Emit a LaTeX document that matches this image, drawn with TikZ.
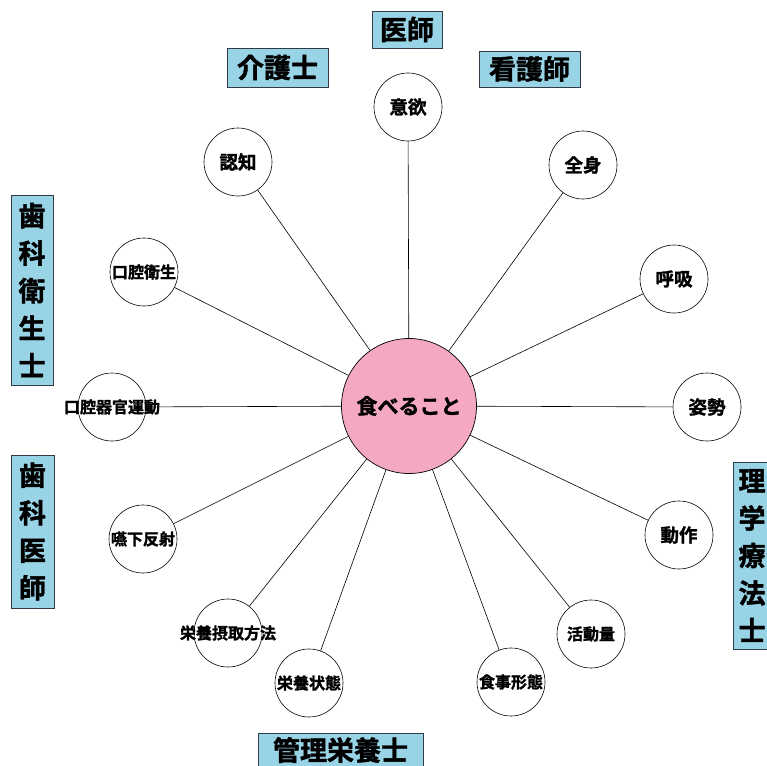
\documentclass[tikz,border=0pt]{standalone}
\usepackage{fontspec}
\setmainfont{Noto Sans CJK JP}[BoldFont={Noto Sans CJK JP Bold},BoldFeatures={FakeBold=1.5}]
\definecolor{boxblue}{RGB}{152,212,230}
\definecolor{boxedge}{RGB}{50,60,70}
\definecolor{hubpink}{RGB}{245,168,196}
\tikzset{
  hub/.style={circle,draw=black,fill=hubpink,line width=0.7pt,minimum size=135pt,inner sep=0pt},
  leaf/.style={circle,draw=black,fill=white,line width=0.6pt,minimum size=68pt,inner sep=0pt},
  leaftxt/.style={inner sep=0pt,font=\bfseries\fontsize{16}{16}\selectfont},
  leaftxtbig/.style={inner sep=0pt,font=\bfseries\fontsize{18.5}{18.5}\selectfont},
  hubtxt/.style={inner sep=0pt,font=\bfseries\fontsize{21}{21}\selectfont},
  role/.style={rectangle,draw=boxedge,fill=boxblue,line width=0.8pt,inner sep=0pt,align=center,font=\bfseries\fontsize{27}{37.5}\selectfont},
  roletxt/.style={inner sep=0pt,align=center,font=\bfseries\fontsize{27}{37.5}\selectfont},
  link/.style={draw=black,line width=0.6pt}
}
\begin{document}
\begin{tikzpicture}[x=1pt,y=-1pt]
\useasboundingbox (0,0) rectangle (767,765);
\clip (0,0) rectangle (767,765);
\fill[white] (0,0) rectangle (767,765);
% hub
\node[hub] (hub) at (409,406) {};
% leaves
\node[leaf] (yiyoku) at (408,107) {};
\node[leaf] (zenshin) at (583,165) {};
\node[leaf] (kokyu) at (674,279) {};
\node[leaf] (shisei) at (707,407) {};
\node[leaf] (dousa) at (679,535) {};
\node[leaf] (katsudo) at (591,634) {};
\node[leaf] (shokuji) at (511,682) {};
\node[leaf] (jotai) at (309,683) {};
\node[leaf] (sesshu) at (228,633) {};
\node[leaf] (enge) at (143,539) {};
\node[leaf] (kikan) at (112,407) {};
\node[leaf] (eisei) at (144,272) {};
\node[leaf] (ninchi) at (238,162) {};
% links
\foreach \n in {yiyoku,zenshin,kokyu,shisei,dousa,katsudo,shokuji,jotai,sesshu,enge,kikan,eisei,ninchi}
  \draw[link] (hub) -- (\n);
% texts
\node[hubtxt] (hubt) at (hub) {食べること};
\node[leaftxtbig] (yiyokut) at (yiyoku) {意欲};
\node[leaftxtbig] (zenshint) at (zenshin) {全身};
\node[leaftxtbig] (kokyut) at (kokyu) {呼吸};
\node[leaftxtbig] (shiseit) at (shisei) {姿勢};
\node[leaftxtbig] (dousat) at (dousa) {動作};
\node[leaftxt] (katsudot) at (katsudo) {活動量};
\node[leaftxt] (shokujit) at (shokuji) {食事形態};
\node[leaftxt] (jotait) at (jotai) {栄養状態};
\node[leaftxt] (sesshut) at (sesshu) {栄養摂取方法};
\node[leaftxt] (enget) at (enge) {嚥下反射};
\node[leaftxt] (kikant) at (kikan) {口腔器官運動};
\node[leaftxt] (eiseit) at (eisei) {口腔衛生};
\node[leaftxtbig] (ninchit) at (ninchi) {認知};
% roles
\node[role,minimum width=70pt,minimum height=37pt] (ishi) at (407,29.5) {医師};
\node[role,minimum width=101pt,minimum height=39pt] (kaigo) at (277.5,67.5) {介護士};
\node[role,minimum width=101pt,minimum height=36pt] (kango) at (529.5,69) {看護師};
\node[role,minimum width=42pt,minimum height=190pt] (shikaeisei) at (32,290) {歯\\科\\衛\\生\\士};
\node[role,minimum width=43pt,minimum height=153pt] (shikaishi) at (32.5,531.5) {歯\\科\\医\\師};
\node[role,minimum width=46pt,minimum height=187pt] (rigaku) at (756,555.5) {};
\node[roletxt] (rigakut) at (752,555.5) {理\\学\\療\\法\\士};
\node[role,minimum width=165pt,minimum height=44pt] (kanri) at (340.5,755) {};
\node[roletxt] (kanrit) at (340.5,750) {管理栄養士};
\end{tikzpicture}
\end{document}
